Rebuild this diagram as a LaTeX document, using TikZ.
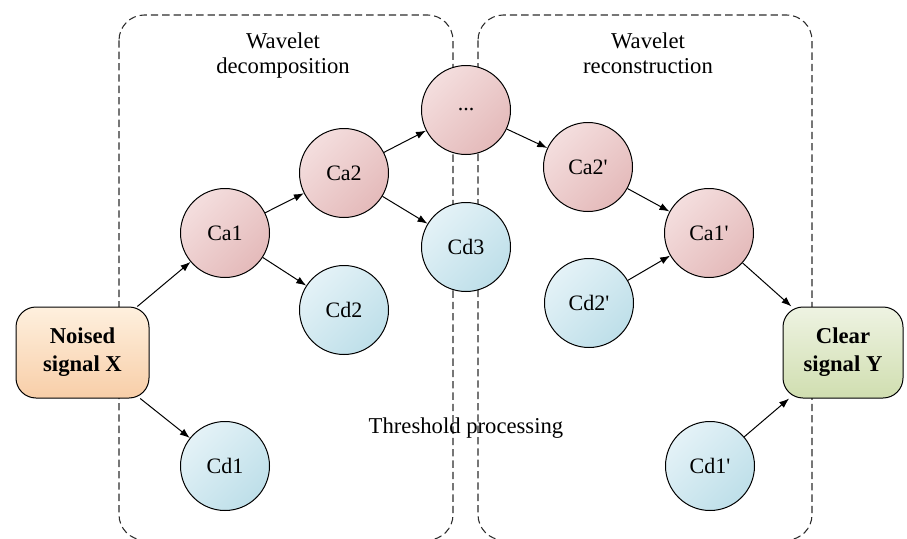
\documentclass[tikz,border=0pt]{standalone}
\usepackage{fontspec}
\setmainfont{Liberation Serif}
\usetikzlibrary{arrows.meta}
\definecolor{pinkA}{RGB}{244,222,222}
\definecolor{pinkB}{RGB}{228,186,186}
\definecolor{blueA}{RGB}{228,242,247}
\definecolor{blueB}{RGB}{190,223,233}
\definecolor{orA}{RGB}{254,240,222}
\definecolor{orB}{RGB}{248,206,168}
\definecolor{grA}{RGB}{238,243,226}
\definecolor{grB}{RGB}{208,222,176}
\definecolor{dashgray}{RGB}{45,45,45}
\tikzset{
  circbase/.style={circle, draw=black, line width=0.75pt, minimum size=66.75pt, inner sep=0pt, font=\fontsize{16.5}{19}\selectfont},
  pinkc/.style={circbase, top color=pinkA, bottom color=pinkB, shading angle=45},
  bluec/.style={circbase, top color=blueA, bottom color=blueB, shading angle=45},
  endbox/.style={draw=black, line width=0.75pt, rounded corners=15pt, inner sep=0pt, align=center, font=\fontsize{17}{21}\selectfont\bfseries},
  arr/.style={-{Latex[length=7.5pt,width=5.5pt]}, line width=0.75pt},
  dbox/.style={draw=dashgray, line width=0.8pt, dash pattern=on 5.5pt off 3pt, rounded corners=19pt},
  lbl/.style={anchor=base, inner sep=0pt, font=\fontsize{17}{20}\selectfont}
}
\begin{document}
\begin{tikzpicture}[x=0.75pt,y=-0.75pt]
\useasboundingbox (0,0) rectangle (907,539);
\clip (0,0) rectangle (907,539);
% dashed groups
\draw[dbox] (119,15) rectangle (453,540);
\draw[dbox] (478,15) rectangle (812,540);
% labels
\node[lbl] (wd1) at (283,48) {Wavelet};
\node[lbl] (wd2) at (283,73) {decomposition};
\node[lbl] (wr1) at (648,48) {Wavelet};
\node[lbl] (wr2) at (648,73) {reconstruction};
\node[lbl] (thr) at (466,433) {Threshold processing};
% end boxes
\node[endbox, top color=orA, bottom color=orB, minimum width=99.75pt, minimum height=68.25pt] (X) at (82.5,352.5) {Noised\\signal X};
\node[endbox, top color=grA, bottom color=grB, minimum width=90pt, minimum height=68.25pt] (Y) at (843,352.5) {Clear\\signal Y};
% circles
\node[pinkc] (Ca1) at (225,233) {Ca1};
\node[pinkc] (Ca2) at (344,173) {Ca2};
\node[pinkc] (dots) at (466,110) {...};
\node[bluec] (Cd3) at (466,247) {Cd3};
\node[bluec] (Cd2) at (344,310) {Cd2};
\node[bluec] (Cd1) at (225,466) {Cd1};
\node[pinkc] (Ca2p) at (588,167) {Ca2\textquotesingle};
\node[pinkc] (Ca1p) at (709,233) {Ca1\textquotesingle};
\node[bluec] (Cd2p) at (589,303) {Cd2\textquotesingle};
\node[bluec] (Cd1p) at (710,466) {Cd1\textquotesingle};
% connectors
\draw[arr] (X) -- (Ca1);
\draw[arr] (X) -- (Cd1);
\draw[arr] (Ca1) -- (Ca2);
\draw[arr] (Ca1) -- (Cd2);
\draw[arr] (Ca2) -- (dots);
\draw[arr] (Ca2) -- (Cd3);
\draw[arr] (dots) -- (Ca2p);
\draw[arr] (Ca2p) -- (Ca1p);
\draw[arr] (Cd2p) -- (Ca1p);
\draw[arr] (Ca1p) -- (Y);
\draw[arr] (Cd1p) -- (Y);
\end{tikzpicture}
\end{document}
